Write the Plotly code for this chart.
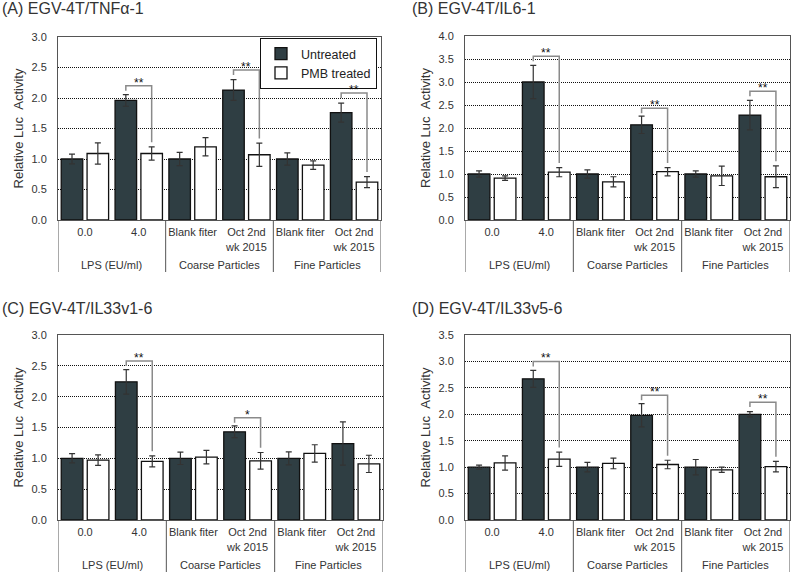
import plotly.graph_objects as go

# x categories (shared by all four panels)
categories = ["0.0", "4.0", "Blank fiter", "Oct 2nd<br>wk 2015", "Blank fiter", "Oct 2nd<br>wk 2015"]
positions = [0, 1, 2, 3, 4, 5]
groups = ["LPS (EU/ml)", "Coarse Particles", "Fine Particles"]
group_centers = [0.5, 2.5, 4.5]
group_bounds = [-0.5, 1.5, 3.5, 5.5]

# (A) TNFa
tnf_untreated = [1.00, 1.96, 1.00, 2.13, 1.00, 1.76]
tnf_untreated_err = [0.08, 0.095, 0.11, 0.17, 0.10, 0.155]
tnf_pmb = [1.09, 1.09, 1.20, 1.07, 0.90, 0.62]
tnf_pmb_err = [0.175, 0.11, 0.15, 0.19, 0.07, 0.09]
tnf_sig_x = [1, 3, 5]
tnf_sig_y = [2.20, 2.46, 2.08]
tnf_sig_text = ["**", "**", "**"]

# (B) IL6
il6_untreated = [1.00, 3.00, 1.00, 2.07, 1.00, 2.28]
il6_untreated_err = [0.07, 0.36, 0.09, 0.19, 0.07, 0.32]
il6_pmb = [0.91, 1.04, 0.83, 1.05, 0.96, 0.94]
il6_pmb_err = [0.05, 0.10, 0.11, 0.09, 0.21, 0.235]
il6_sig_x = [1, 3, 5]
il6_sig_y = [3.56, 2.43, 2.80]
il6_sig_text = ["**", "**", "**"]

# (C) IL33v1
il33v1_untreated = [1.00, 2.24, 1.00, 1.43, 1.00, 1.24]
il33v1_untreated_err = [0.075, 0.20, 0.10, 0.095, 0.105, 0.35]
il33v1_pmb = [0.97, 0.95, 1.02, 0.96, 1.08, 0.91]
il33v1_pmb_err = [0.085, 0.09, 0.11, 0.135, 0.14, 0.14]
il33v1_sig_x = [1, 3]
il33v1_sig_y = [2.58, 1.66]
il33v1_sig_text = ["**", "*"]

# (D) IL33v5
il33v5_untreated = [1.00, 2.67, 1.00, 1.98, 1.00, 2.00]
il33v5_untreated_err = [0.04, 0.16, 0.09, 0.22, 0.145, 0.05]
il33v5_pmb = [1.08, 1.15, 1.07, 1.05, 0.95, 1.01]
il33v5_pmb_err = [0.135, 0.135, 0.10, 0.08, 0.05, 0.10]
il33v5_sig_x = [1, 3, 5]
il33v5_sig_y = [3.00, 2.36, 2.23]
il33v5_sig_text = ["**", "**", "**"]

DARK = "#2f3e43"
FONT = "Arial, Liberation Sans, sans-serif"
W, H = 791, 572

panels = [
    dict(title="(A) EGV-4T/TNF\u03b1-1", ymax=3.0, u=tnf_untreated, ue=tnf_untreated_err,
         p=tnf_pmb, pe=tnf_pmb_err, sx=tnf_sig_x, sy=tnf_sig_y, st=tnf_sig_text,
         box=(58, 381, 37, 220), bottom=272, title_xy=(0, 9)),
    dict(title="(B) EGV-4T/IL6-1", ymax=4.0, u=il6_untreated, ue=il6_untreated_err,
         p=il6_pmb, pe=il6_pmb_err, sx=il6_sig_x, sy=il6_sig_y, st=il6_sig_text,
         box=(465, 790, 36, 220), bottom=272, title_xy=(410, 9)),
    dict(title="(C) EGV-4T/IL33v1-6", ymax=3.0, u=il33v1_untreated, ue=il33v1_untreated_err,
         p=il33v1_pmb, pe=il33v1_pmb_err, sx=il33v1_sig_x, sy=il33v1_sig_y, st=il33v1_sig_text,
         box=(58, 383, 335, 520), bottom=572, title_xy=(0, 308)),
    dict(title="(D) EGV-4T/IL33v5-6", ymax=3.5, u=il33v5_untreated, ue=il33v5_untreated_err,
         p=il33v5_pmb, pe=il33v5_pmb_err, sx=il33v5_sig_x, sy=il33v5_sig_y, st=il33v5_sig_text,
         box=(465, 790, 335, 520), bottom=572, title_xy=(410, 308)),
]

fig = go.Figure()
shapes = []
annotations = []

for i, pnl in enumerate(panels, start=1):
    sfx = "" if i == 1 else str(i)
    xa, ya = "x" + sfx, "y" + sfx
    x0, x1, ytop, ybot = pnl["box"]
    ph = ybot - ytop

    fig.add_trace(go.Bar(
        x=positions, y=pnl["u"], width=0.4, offset=-0.44, name="Untreated",
        marker=dict(color=DARK, line=dict(color="#111111", width=1.3)),
        error_y=dict(type="data", array=pnl["ue"], color="#333333", thickness=1.2, width=3),
        xaxis=xa, yaxis=ya, showlegend=(i == 1),
    ))
    fig.add_trace(go.Bar(
        x=positions, y=pnl["p"], width=0.4, offset=0.04, name="PMB treated",
        marker=dict(color="white", line=dict(color="#111111", width=1.3)),
        error_y=dict(type="data", array=pnl["pe"], color="#333333", thickness=1.2, width=3),
        xaxis=xa, yaxis=ya, showlegend=(i == 1),
    ))

    fig.layout["xaxis" + sfx] = dict(
        domain=[x0 / W, x1 / W], anchor=ya, range=[-0.5, 5.5],
        tickvals=positions, ticktext=categories, ticks="", ticklabelstandoff=2,
        tickfont=dict(size=11, color="#333333"), showgrid=False, zeroline=False,
        showline=True, mirror=True, linecolor="#555555", linewidth=1, fixedrange=True,
    )
    fig.layout["yaxis" + sfx] = dict(
        domain=[1 - ybot / H, 1 - ytop / H], anchor=xa, range=[0, pnl["ymax"]],
        dtick=0.5, tickformat=".1f", ticks="", ticklabelstandoff=8,
        tickfont=dict(size=11, color="#333333"),
        showgrid=True, gridcolor="#111111", griddash="1px,1px", gridwidth=1,
        zeroline=False, showline=True, mirror=True, linecolor="#555555", linewidth=1,
        title=dict(text="Relative Luc \u00a0Activity", font=dict(size=13, color="#333333"), standoff=4),
        automargin=False, fixedrange=True,
    )

    # separators under the category axis
    for b in group_bounds:
        shapes.append(dict(type="line", xref=xa, yref=ya + " domain", x0=b, x1=b,
                           y0=0, y1=-(pnl["bottom"] - ybot) / ph,
                           line=dict(color="#555555", width=1)))
    for g, gc in zip(groups, group_centers):
        annotations.append(dict(xref=xa, yref=ya + " domain", x=gc, y=-(45 / ph),
                                text=g, showarrow=False, yanchor="middle",
                                font=dict(size=11, color="#333333")))

    # significance brackets
    tick = pnl["ymax"] * 0.027
    for sx, sy, st in zip(pnl["sx"], pnl["sy"], pnl["st"]):
        top_p = pnl["p"][sx] + pnl["pe"][sx] + pnl["ymax"] * 0.025
        xl, xr = sx - 0.24, sx + 0.24
        shapes.append(dict(type="path", xref=xa, yref=ya,
                           path=f"M{xl},{sy - tick} L{xl},{sy} L{xr},{sy} L{xr},{top_p}",
                           line=dict(color="#8a8a8a", width=1.5)))
        annotations.append(dict(xref=xa, yref=ya, x=sx, y=sy, text=st, showarrow=False,
                                yanchor="bottom", yshift=-6,
                                font=dict(size=12, color="#111111")))

    tx, ty = pnl["title_xy"]
    annotations.append(dict(xref="paper", yref="paper", x=tx / W, y=1 - ty / H,
                            xanchor="left", yanchor="middle", text=pnl["title"],
                            showarrow=False, font=dict(size=16, color="#333333")))

fig.update_layout(
    width=W, height=H, margin=dict(l=0, r=0, t=0, b=0),
    barmode="overlay", plot_bgcolor="white", paper_bgcolor="white",
    font=dict(family=FONT, color="#333333"),
    shapes=shapes, annotations=annotations,
    legend=dict(x=377 / W, y=1 - 38 / H, xanchor="right", yanchor="top",
                bordercolor="#111111", borderwidth=1, bgcolor="white",
                font=dict(size=12.5, color="#222222"), tracegroupgap=0),
)

fig.write_html("out.html", config={"displayModeBar": False},
               post_script="document.body.style.margin='0';")
